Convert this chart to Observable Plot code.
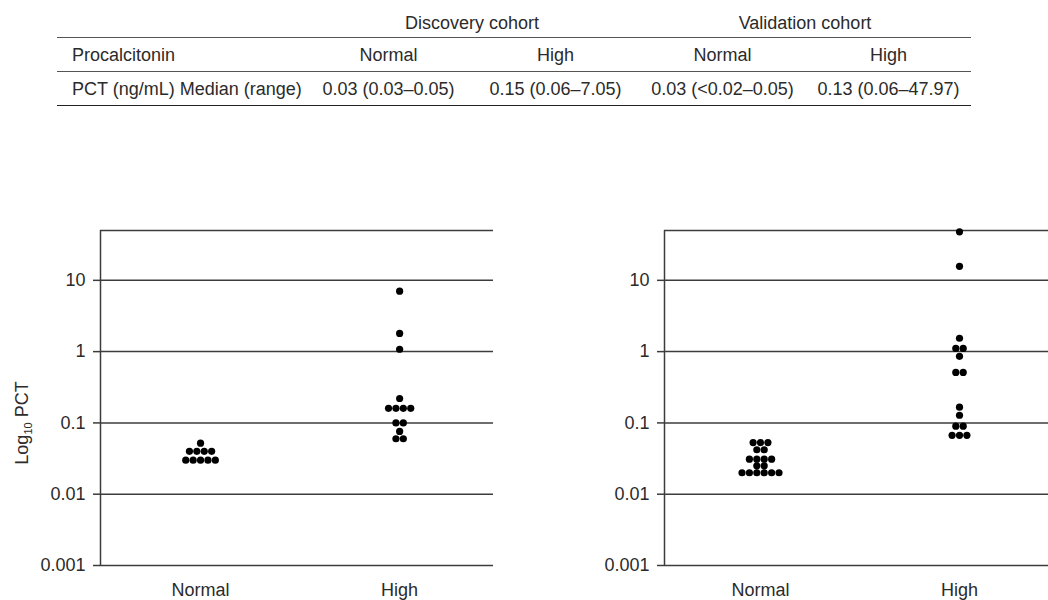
<!DOCTYPE html>
<html><head><meta charset="utf-8">
<script src="https://cdn.jsdelivr.net/npm/d3@7"></script>
<script src="https://cdn.jsdelivr.net/npm/@observablehq/plot@0.6"></script>
<style>
html,body{margin:0;padding:0;background:#fff;overflow:hidden;width:1048px;height:600px;}
#root{position:relative;width:1048px;height:600px;font-family:"Liberation Sans",Arial,Helvetica,sans-serif;color:#2b2b2b;}
.cell{position:absolute;font-size:18px;line-height:34px;height:34px;white-space:nowrap;}
.hline{position:absolute;height:0;border-top:1.6px solid #3c3c3c;}
.panel{position:absolute;top:200px;}
</style></head><body><div id="root"></div>
<script>
// ---- data ----
const cohorts = ["Discovery cohort", "Validation cohort"];
const groups = ["Normal", "High"];
const rowLabels = ["Procalcitonin", "PCT (ng/mL) Median (range)"];
const medianRange = ["0.03 (0.03\u20130.05)", "0.15 (0.06\u20137.05)", "0.03 (<0.02\u20130.05)", "0.13 (0.06\u201347.97)"];
const yTicks = [0.001, 0.01, 0.1, 1, 10];
const yTop = 50;
const discoveryNormal = [0.052, 0.04, 0.04, 0.04, 0.04, 0.03, 0.03, 0.03, 0.03, 0.03];
const discoveryHigh = [7.05, 1.8, 1.08, 0.22, 0.16, 0.16, 0.16, 0.16, 0.1, 0.1, 0.076, 0.06, 0.06];
const validationNormal = [0.053, 0.053, 0.053, 0.042, 0.042, 0.031, 0.031, 0.031, 0.031, 0.025, 0.025, 0.02, 0.02, 0.02, 0.02, 0.02, 0.02];
const validationHigh = [47.97, 15.7, 1.54, 1.11, 1.11, 0.86, 0.51, 0.51, 0.166, 0.128, 0.09, 0.09, 0.067, 0.067, 0.067];

const root = document.getElementById("root");
const FONT = '"Liberation Sans", Arial, Helvetica, sans-serif';
const INK = "#2b2b2b", LINE = "#3c3c3c";

// ---- table ----
const colEdges = [57, 305, 472, 639, 806, 971];
const rowTops = [6, 38, 72];
function cell(text, left, width, top, align) {
  const d = document.createElement("div");
  d.className = "cell";
  d.textContent = text;
  d.style.left = left + "px"; d.style.width = width + "px"; d.style.top = top + "px";
  d.style.textAlign = align;
  root.appendChild(d);
}
function hline(y, x0, x1, color) {
  const d = document.createElement("div");
  d.className = "hline";
  d.style.left = x0 + "px"; d.style.width = (x1 - x0) + "px"; d.style.top = y + "px";
  if (color) d.style.borderTopColor = color;
  root.appendChild(d);
}
cohorts.forEach((c, i) => {
  const a = colEdges[1 + 2 * i], b = colEdges[3 + 2 * i];
  cell(c, a, b - a, rowTops[0], "center");
});
cell(rowLabels[0], colEdges[0] + 15, 240, rowTops[1], "left");
cell(rowLabels[1], colEdges[0] + 15, 240, rowTops[2], "left");
for (let j = 0; j < 4; j++) {
  const a = colEdges[1 + j], b = colEdges[2 + j];
  cell(groups[j % 2], a, b - a, rowTops[1], "center");
  cell(medianRange[j], a, b - a, rowTops[2], "center");
}
hline(37, colEdges[0], colEdges[5], "#555");
hline(71, colEdges[0], colEdges[5], "#555");
hline(105, colEdges[0], colEdges[5], "#222");

// ---- dot panels ----
function swarm(values, gi) {
  const counts = d3.rollup(values, v => v.length, d => d);
  const seen = new Map();
  return values.map(v => {
    const n = counts.get(v), k = seen.get(v) ?? 0;
    seen.set(v, k + 1);
    return {gi, value: v, offset: k - (n - 1) / 2};
  });
}
function panel({normal, high, xDomain, left, marginLeft, width, yLabel}) {
  const frameW = 393;
  const data = [...swarm(normal, 0), ...swarm(high, 1)];
  const step = 7.4 * (xDomain[1] - xDomain[0]) / frameW;
  const plot = Plot.plot({
    width, height: 400,
    marginLeft, marginRight: width - marginLeft - frameW, marginTop: 30, marginBottom: 35,
    style: {fontFamily: FONT, fontSize: "18px", color: INK, background: "transparent", overflow: "visible"},
    x: {type: "linear", domain: xDomain, axis: null},
    y: {type: "log", domain: [yTicks[0], yTop], axis: null},
    marks: [
      Plot.ruleY(yTicks, {stroke: LINE, strokeWidth: 1.5}),
      Plot.ruleY([yTop], {stroke: LINE, strokeWidth: 1.5}),
      Plot.ruleX([xDomain[0]], {stroke: LINE, strokeWidth: 1.5}),
      Plot.axisY({ticks: yTicks, tickFormat: d => String(d), tickSize: 7, tickPadding: 8, label: null, stroke: LINE, strokeWidth: 1.5, fill: INK}),
      Plot.axisX({ticks: [0, 1], tickFormat: i => groups[i], tickSize: 0, tickPadding: 18, label: null, fill: INK}),
      Plot.dot(data, {x: d => d.gi + d.offset * step, y: "value", r: 3.6, fill: "#000", stroke: "none"})
    ]
  });
  plot.classList.add("panel");
  plot.style.left = left + "px";
  if (yLabel) {
    const t = d3.select(plot).append("text")
      .attr("transform", "translate(28,223) rotate(-90)")
      .attr("text-anchor", "middle").attr("fill", INK)
      .style("font-size", "18px").style("font-family", FONT);
    t.append("tspan").text(yLabel[0]);
    t.append("tspan").attr("font-size", "11px").attr("dy", 4).text(yLabel[1]);
    t.append("tspan").attr("dy", -4).text(yLabel[2]);
  }
  root.appendChild(plot);
}
panel({normal: discoveryNormal, high: discoveryHigh, xDomain: [-0.5025, 1.4715], left: 0, marginLeft: 100, width: 524, yLabel: ["Log", "10", " PCT"]});
panel({normal: validationNormal, high: validationHigh, xDomain: [-0.4825, 1.4925], left: 524, marginLeft: 140, width: 533});
</script></body></html>
